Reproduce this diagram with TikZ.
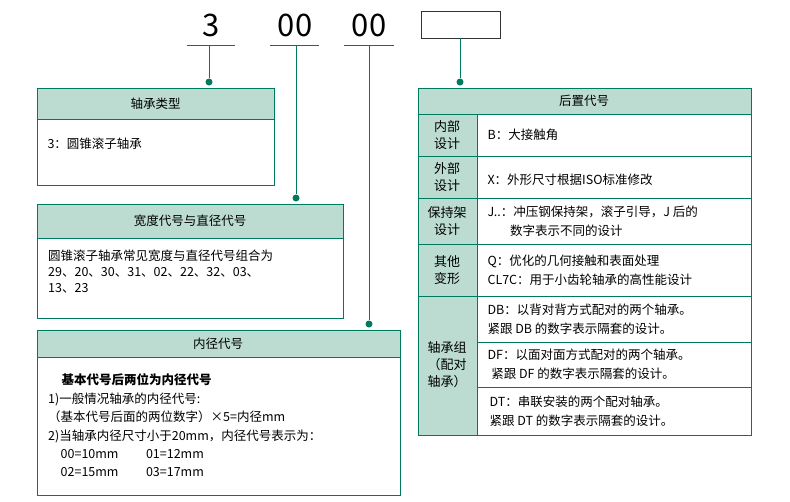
\documentclass[tikz,border=0pt]{standalone}
\usepackage{fontspec}
\setmainfont{Noto Sans CJK SC}
\begin{document}
\begin{tikzpicture}[x=1pt,y=-1pt,font=\fontsize{12.5}{16}\selectfont]
\definecolor{gl}{HTML}{007A5E}
\definecolor{gf}{HTML}{BCDCD2}
\tikzset{hdr/.style={draw=gl,fill=gf,line width=0.9pt},bx/.style={draw=gl,line width=0.9pt},
 ln/.style={draw=gl,line width=0.9pt},dot/.style={circle,fill=gl,inner sep=0pt,minimum size=7pt},
 big/.style={font=\fontsize{31}{31}\selectfont,inner sep=0pt}}
\useasboundingbox (0,0) rectangle (790,501);
% top code
\node[big] (n1) at (211,25) {3};
\node[big] (n2) at (295,25) {00};
\node[big] (n3) at (369,25) {00};
\draw[black!80,line width=0.7pt] (421,11) rectangle (500,38);
\coordinate (u1) at (211,45); \coordinate (u2) at (296,45); \coordinate (u3) at (369,45); \coordinate (u4) at (460,38);
\draw[ln] (187,45)--(235,45); \draw[ln] (270,45)--(319,45); \draw[ln] (344,45)--(394,45);
\node[dot] (d1) at (209,82) {}; \node[dot] (d2) at (296,198) {}; \node[dot] (d3) at (369,324) {}; \node[dot] (d4) at (460,82) {};
\draw[ln] (209,45)--(d1); \draw[ln] (u2)--(d2); \draw[ln] (u3)--(d3); \draw[ln] (u4)--(d4);
% box1
\draw[bx] (37,88) rectangle (274,185);
\draw[hdr] (37,88) rectangle (274,119);
\node (h1) at (155.5,103.5) {轴承类型};
\node[anchor=west] (t1) at (44,144) {3：圆锥滚子轴承};
% box2
\draw[bx] (37,204) rectangle (343,318);
\draw[hdr] (37,204) rectangle (343,238);
\node (h2) at (190,221) {宽度代号与直径代号};
\node[anchor=north west,align=left,inner sep=0pt] (t2) at (48,250) {圆锥滚子轴承常见宽度与直径代号组合为\\29、20、30、31、02、22、32、03、\\13、23};
% box3
\draw[bx] (37,330) rectangle (400,495);
\draw[hdr] (37,330) rectangle (400,357);
\node (h3) at (218,343.5) {内径代号};
\node[anchor=west,font=\fontsize{12.5}{16}\selectfont\bfseries] (b3) at (58,380) {基本代号后两位为内径代号};
\node[anchor=north west,align=left,inner sep=0pt,font=\fontsize{12.5}{18.2}\selectfont] (t3) at (48,393) {1)一般情况轴承的内径代号:\\（基本代号后面的两位数字）×5=内径mm\\2)当轴承内径尺寸小于20mm，内径代号表示为：\\\hspace*{1em}00=10mm\hspace{2.2em}01=12mm\\\hspace*{1em}02=15mm\hspace{2.2em}03=17mm};
% right box
\draw[bx] (418,88) rectangle (751,435);
\fill[gf] (418,88) rectangle (477,435);
\draw[hdr] (418,88) rectangle (751,114);
\node (h4) at (584,101) {后置代号};
\foreach \y in {156,198,244,296}{\draw[ln] (418,\y)--(751,\y);}
\foreach \y in {342,387}{\draw[ln] (477,\y)--(751,\y);}
\draw[ln] (477,114)--(477,435);
\draw[bx] (418,88) rectangle (751,435);
\tikzset{lc/.style={align=center,font=\fontsize{13}{17}\selectfont}, rt/.style={anchor=west,align=left,font=\fontsize{12.5}{19}\selectfont}}
\node[lc] (l1) at (447,135) {内部\\设计};
\node[lc] (l2) at (447,177) {外部\\设计};
\node[lc] (l3) at (447,221) {保持架\\设计};
\node[lc] (l4) at (447,270) {其他\\变形};
\node[lc] (l5) at (447,365) {轴承组\\（配对\\轴承）};
\node[rt] (r1) at (484,135) {B：大接触角};
\node[rt] (r2) at (484,180) {X：外形尺寸根据ISO标准修改};
\node[rt] (r3) at (484,221) {J..：冲压钢保持架，滚子引导，J 后的\\\hspace*{1.8em}数字表示不同的设计};
\node[rt] (r4) at (484,270) {Q：优化的几何接触和表面处理\\CL7C：用于小齿轮轴承的高性能设计};
\node[rt] (r5) at (484,319) {DB：以背对背方式配对的两个轴承。\\紧跟 DB 的数字表示隔套的设计。};
\node[rt] (r6) at (484,364) {DF：以面对面方式配对的两个轴承。\\\hspace*{0.3em}紧跟 DF 的数字表示隔套的设计。};
\node[rt] (r7) at (486,411) {DT：串联安装的两个配对轴承。\\紧跟 DT 的数字表示隔套的设计。};
\end{tikzpicture}
\end{document}
